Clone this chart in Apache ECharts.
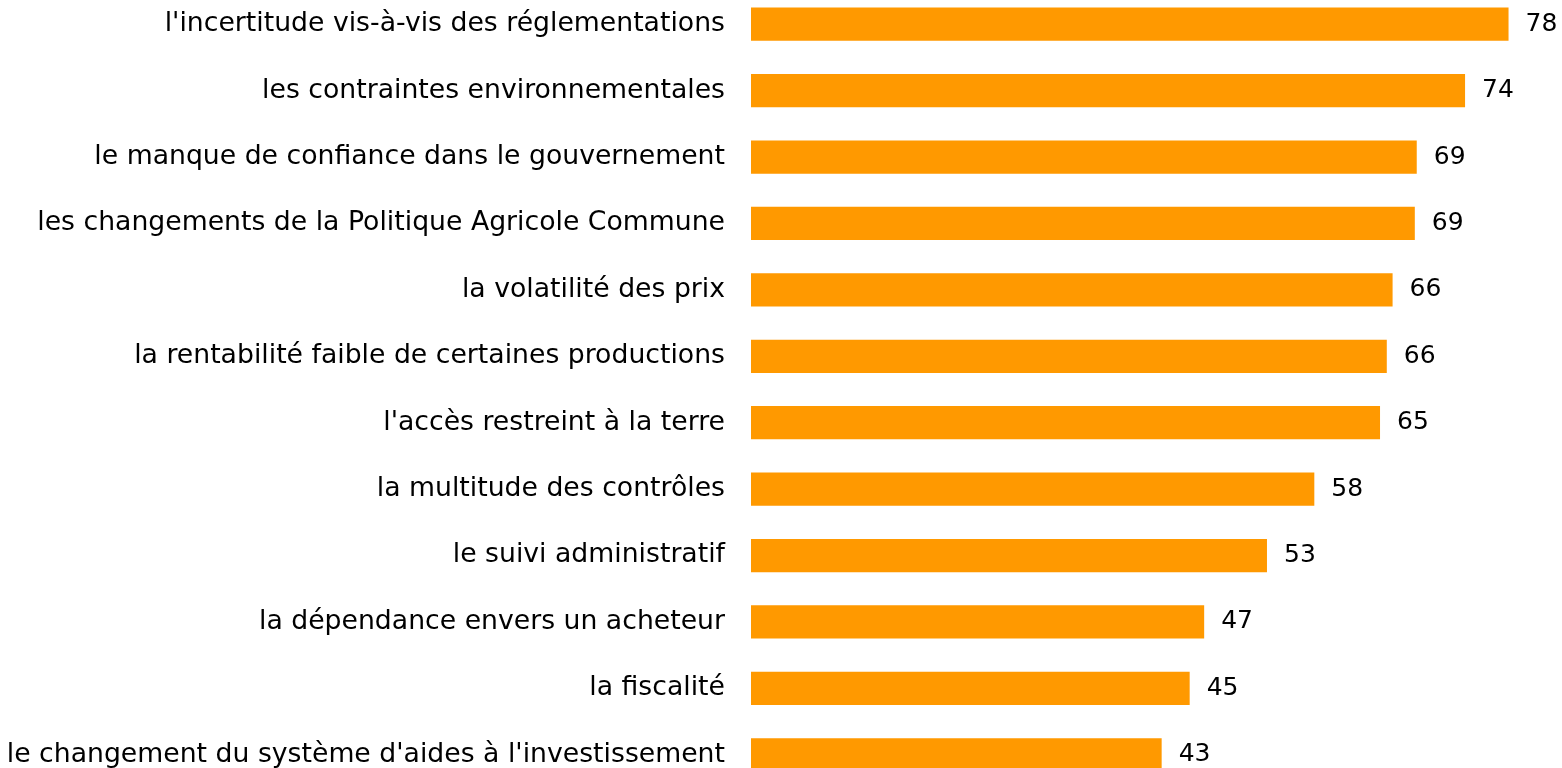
<!DOCTYPE html>
<html>
<head>
<meta charset="utf-8">
<script src="https://cdn.jsdelivr.net/npm/echarts@6/dist/echarts.min.js"></script>
<style>
  html, body { margin: 0; padding: 0; background: #fff; overflow: hidden; }
  body { width: 1562px; height: 768px; position: relative; }
  /* chart is taller than the window: last bar is cut off like the reference */
  #chart { position: absolute; left: 0; top: -9.5px; width: 1562px; height: 797px; }
</style>
</head>
<body>
<div id="chart"></div>
<script>
// categories, top to bottom
var categories = [
  "l'incertitude vis-à-vis des réglementations",
  'les contraintes environnementales',
  'le manque de confiance dans le gouvernement',
  'les changements de la Politique Agricole Commune',
  'la volatilité des prix',
  'la rentabilité faible de certaines productions',
  "l'accès restreint à la terre",
  'la multitude des contrôles',
  'le suivi administratif',
  'la dépendance envers un acheteur',
  'la fiscalité',
  "le changement du système d'aides à l'investissement"
]
// values (labels shown rounded)
var values = [78.4, 73.9, 68.9, 68.7, 66.4, 65.8, 65.1, 58.3, 53.4, 46.9, 45.4, 42.5]

var chart = echarts.init(document.getElementById('chart'))
chart.setOption({
  animation: false,
  textStyle: {
    fontFamily: 'DejaVu Sans'
  },
  grid: {
    left: 751,
    right: 38,
    top: 0,
    bottom: 0
  },
  xAxis: {
    type: 'value',
    min: 0,
    max: 80,
    show: false
  },
  yAxis: {
    type: 'category',
    inverse: true,
    data: categories,
    axisLine: { show: false },
    axisTick: { show: false },
    axisLabel: {
      margin: 26,
      color: '#000',
      fontSize: 26.7,
      fontFamily: 'DejaVu Sans'
    }
  },
  series: [
    {
      type: 'bar',
      data: values,
      barWidth: '50%',
      itemStyle: { color: '#ff9900' },
      label: {
        show: true,
        position: 'right',
        distance: 17,
        color: '#000',
        fontSize: 25,
        fontFamily: 'DejaVu Sans',
        formatter: function (p) {
          return Math.round(p.value)
        }
      }
    }
  ]
})
</script>
</body>
</html>
